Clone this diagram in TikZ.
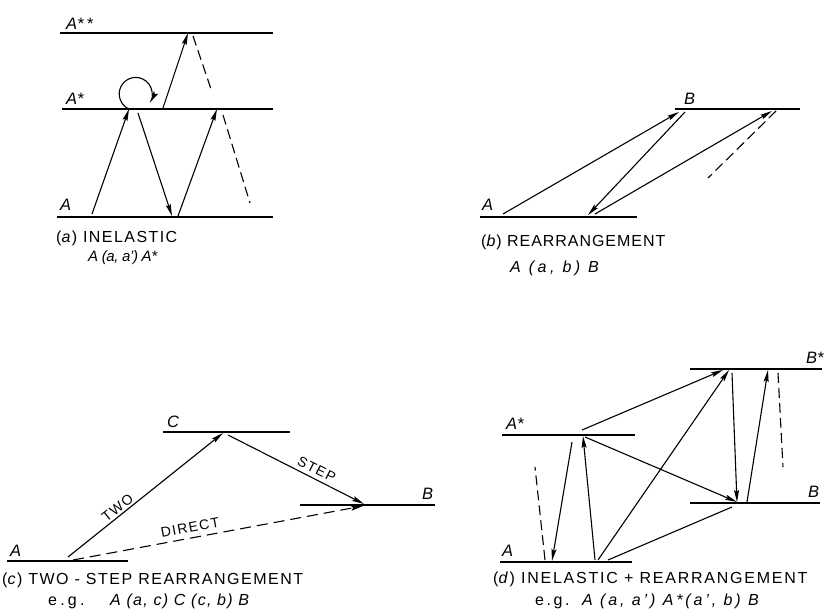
\documentclass[tikz,border=0pt]{standalone}
\usepackage{fontspec}
\setmainfont{Liberation Sans}
\usetikzlibrary{arrows.meta}
\newcommand\lsp[1]{\addfontfeatures{LetterSpace=#1}}
\begin{document}
\begin{tikzpicture}[x=1pt,y=-1pt,
  level/.style={line width=1.8pt},
  arr/.style={line width=1.1pt,-{Stealth[length=12pt,width=5pt,inset=2pt]}},
  plain/.style={line width=1.1pt},
  dsh/.style={line width=1.1pt,dash pattern=on 10pt off 5pt},
  lab/.style={font=\fontsize{16.5}{18}\selectfont\itshape,inner sep=0pt,anchor=base west},
  captxt/.style={font=\fontsize{16}{18}\selectfont,inner sep=0pt,anchor=west},
  captit/.style={font=\fontsize{16}{18}\selectfont\itshape,inner sep=0pt,anchor=west},
  pathlab/.style={font=\fontsize{14}{16}\selectfont\lsp{10},sloped,above}]
\useasboundingbox (0,0) rectangle (831,612);
% ---------- (a) ----------
\draw[level] (60,33) -- (273,33);
\draw[level] (62,109) -- (273,109);
\draw[level] (57,217) -- (273,217);
\node[lab] (aAss) at (66,30) {A*\,*};
\node[lab] (aAs) at (66,105) {A*};
\node[lab] (aA) at (60,211) {A};
\coordinate (a1) at (92,214); \coordinate (a2) at (129,109);
\coordinate (a3) at (138,113); \coordinate (a4) at (172,216);
\coordinate (a5) at (178,216); \coordinate (a6) at (217,109);
\coordinate (a7) at (223,115); \coordinate (a8) at (250,203);
\coordinate (a9) at (163,108); \coordinate (a10) at (188,33);
\coordinate (a11) at (193,36); \coordinate (a12) at (212,92);
\draw[arr] (a1) -- (a2);
\draw[arr] (a3) -- (a4);
\draw[arr] (a5) -- (a6);
\draw[dsh] (a7) -- (a8);
\draw[arr] (a9) -- (a10);
\draw[dsh] (a11) -- (a12);
\coordinate (aloop) at (129,109);
\draw[arr] (aloop) arc[start angle=114,end angle=392,radius=16.5];
\node[captxt] (acap1) at (56,238) {\lsp{9}(\textit{a}) INELASTIC};
\node[captit,font=\fontsize{15}{18}\selectfont\itshape\lsp{-3}] (acap2) at (88,258) {A (a, a’) A*};
% ---------- (b) ----------
\draw[level] (675,109) -- (800,109);
\draw[level] (480,217) -- (637,217);
\node[lab] (bB) at (684,105) {B};
\node[lab] (bA) at (482,211) {A};
\coordinate (b1) at (503,214); \coordinate (b2) at (679,112);
\coordinate (b3) at (685,112); \coordinate (b4) at (588,215);
\coordinate (b5) at (595,214); \coordinate (b6) at (772,111);
\coordinate (b7) at (776,111); \coordinate (b8) at (708,178);
\draw[arr] (b1) -- (b2);
\draw[arr] (b3) -- (b4);
\draw[arr] (b5) -- (b6);
\draw[dsh] (b7) -- (b8);
\node[captxt] (bcap1) at (481,242) {\lsp{6}(\textit{b}) REARRANGEMENT};
\node[captit] (bcap2) at (510,268) {\lsp{22}A (a, b) B};
% ---------- (c) ----------
\draw[level] (163,432) -- (290,432);
\draw[level] (300,505) -- (435,505);
\draw[level] (7,561) -- (128,561);
\node[lab] (cC) at (167,428) {C};
\node[lab] (cB) at (422,500) {B};
\node[lab] (cA) at (10,556) {A};
\coordinate (c1) at (68,557); \coordinate (c2) at (223,433);
\coordinate (c3) at (228,435); \coordinate (c4) at (364,504);
\coordinate (c5) at (73,560); \coordinate (c6) at (363,506);
\draw[arr] (c1) -- node[pathlab,pos=0.35,inner sep=2pt] {TWO} (c2);
\draw[arr] (c3) -- node[pathlab,pos=0.62,inner sep=4pt] {STEP} (c4);
\draw[arr,dash pattern=on 11pt off 6pt] (c5) -- node[pathlab,pos=0.41,inner sep=5pt] {DIRECT} (c6);
\node[captxt] (ccap1) at (2,580) {\lsp{9.5}(\textit{c}) TWO - STEP REARRANGEMENT};
\node[captxt] (ccap2) at (48,601) {\makebox[62pt][l]{\lsp{20}e.g.}\lsp{8}\itshape A (a, c) C (c, b) B};
% ---------- (d) ----------
\draw[level] (690,369) -- (822,369);
\draw[level] (502,435) -- (635,435);
\draw[level] (690,503) -- (820,503);
\draw[level] (500,562) -- (632,562);
\node[lab] (dBs) at (806,364) {B*};
\node[lab] (dAs) at (506,430) {A*};
\node[lab] (dB) at (808,497) {B};
\node[lab] (dA) at (502,557) {A};
\coordinate (d1) at (582,430); \coordinate (d2) at (723,370);
\coordinate (d3) at (598,560); \coordinate (d4) at (729,370);
\coordinate (d5) at (732,373); \coordinate (d6) at (737,502);
\coordinate (d7) at (747,502); \coordinate (d8) at (768,370);
\coordinate (d9) at (778,373); \coordinate (d10) at (783,467);
\coordinate (d11) at (585,437); \coordinate (d12) at (737,502);
\coordinate (d13) at (608,560); \coordinate (d14) at (732,507);
\coordinate (d15) at (572,442); \coordinate (d16) at (552,561);
\coordinate (d17) at (595,560); \coordinate (d18) at (583,436);
\coordinate (d19) at (545,560); \coordinate (d20) at (535,467);
\draw[arr] (d1) -- (d2);
\draw[arr] (d3) -- (d4);
\draw[arr] (d5) -- (d6);
\draw[arr] (d7) -- (d8);
\draw[dsh] (d9) -- (d10);
\draw[arr] (d11) -- (d12);
\draw[plain] (d13) -- (d14);
\draw[arr] (d15) -- (d16);
\draw[arr] (d17) -- (d18);
\draw[dsh] (d19) -- (d20);
\node[captxt] (dcap1) at (493,579) {\lsp{11}(\textit{d}) INELASTIC + REARRANGEMENT};
\node[captxt] (dcap2) at (535,601) {\makebox[47pt][l]{\lsp{16}e.g.}\lsp{18}\itshape A (a, a’) A*(a’, b) B};
\end{tikzpicture}
\end{document}
